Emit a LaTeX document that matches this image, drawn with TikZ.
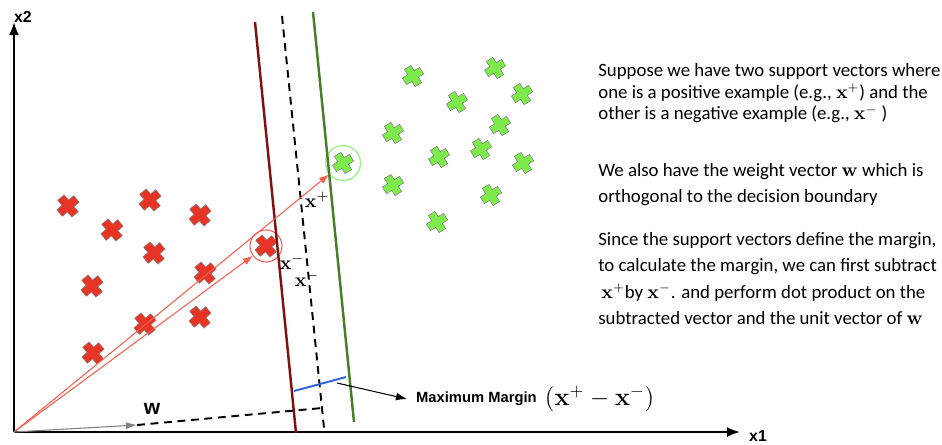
\documentclass[tikz,border=0pt]{standalone}
\usepackage{amsmath, amssymb}
\usepackage[no-math]{fontspec}
\setmainfont{Carlito}
\setsansfont{Liberation Sans}
\usepackage{tikz}
\usetikzlibrary{arrows.meta, positioning, calc}
\definecolor{crossred}{RGB}{232, 52, 36}
\definecolor{crossgreen}{RGB}{125, 235, 75}
\definecolor{negline}{RGB}{130, 18, 18}
\definecolor{posline}{RGB}{72, 125, 42}
\definecolor{vecred}{RGB}{245, 95, 80}
\definecolor{ringgreen}{RGB}{160, 240, 140}
\definecolor{marginblue}{RGB}{40, 100, 225}

\tikzset{
  crossmark/.pic={
    \filldraw[pic actions] (4.2,11) -- (4.2,4.2) -- (11,4.2) -- (11,-4.2) -- (4.2,-4.2)
      -- (4.2,-11) -- (-4.2,-11) -- (-4.2,-4.2) -- (-11,-4.2) -- (-11,4.2)
      -- (-4.2,4.2) -- (-4.2,11) -- cycle;
  }
}

\begin{document}
\begin{tikzpicture}[x=0.02cm, y=-0.02cm, every node/.style={font=\small},
    axis/.style={line width=1.1pt, -{Latex[length=2.6mm, width=2mm]}},
    axislabel/.style={font=\sffamily\bfseries\fontsize{9}{10}\selectfont},
    vec/.style={vecred, line width=0.6pt, -{Latex[length=2mm, width=1.5mm]}},
    para/.style={align=left, inner sep=0pt, anchor=north west}]
        \useasboundingbox (0,0) rectangle (942,444);

        % AXES
        \coordinate (o) at (14,432);
        \coordinate (x2tip) at (14,22);
        \coordinate (x1tip) at (740,432);
        \draw[axis] (o) -- (x2tip);
        \draw[axis] (o) -- (x1tip);
        \node[axislabel] (x2) at (23,17) {x2};
        \node[axislabel] (x1) at (758,436) {x1};

        % NEGATIVE CLASS
        \foreach \p in {(68,206), (150,200), (200,215), (112,230), (154,253),
                        (205,273), (92,286), (145,324), (200,317), (93,353), (266,246)}
          \pic[fill=crossred, draw=gray, line width=0.3pt, rotate=40] at \p {crossmark};

        % POSITIVE CLASS
        \foreach \p in {(413,76), (495,68), (522,94), (457,102), (500,125), (393,133),
                        (481,149), (439,157), (523,163), (343,163), (393,185),
                        (491,195), (437,222)}
          \pic[fill=crossgreen, draw=gray, line width=0.3pt, rotate=32, scale=0.92] at \p {crossmark};

        % SUPPORT VECTORS
        \node[circle, draw=vecred, line width=0.6pt, minimum size=0.64cm] (xn) at (266,246) {};
        \node[circle, draw=ringgreen, line width=0.8pt, minimum size=0.7cm] (xp) at (343,163) {};

        % HYPERPLANES
        \draw[negline, line width=1.4pt] (255,22) -- (296,433);
        \draw[black, line width=1.1pt, dash pattern=on 4.5pt off 3.2pt] (282,16) -- (324,428);
        \draw[posline, line width=1.4pt] (313,12) -- (354,422);

        % VECTORS
        \draw[vec] (o) -- (xp);
        \draw[vec] (o) -- (xn);
        \node[font=\fontsize{11}{12}\selectfont] (lxp) at (317,200) {$\mathbf{x}^{+}$};
        \node[font=\fontsize{11}{12}\selectfont] (lxn) at (292,262) {$\mathbf{x}^{-}$};
        \node[font=\fontsize{11}{12}\selectfont] (lxn2) at (307,279) {$\mathbf{x}^{-}$};

        % WEIGHT VECTOR
        \coordinate (wtip) at (137,425);
        \coordinate (wend) at (322,408);
        \draw[gray, line width=0.6pt, -{Latex[length=2.2mm, width=1.4mm]}] (o) -- (wtip);
        \draw[black, line width=1.1pt, dash pattern=on 4.5pt off 3.2pt] (wtip) -- (wend);
        \node[font=\sffamily\bfseries\fontsize{12}{13}\selectfont] (w) at (152,409) {w};

        % MARGIN
        \coordinate (mleft) at (294,391);
        \coordinate (mright) at (346,377);
        \draw[marginblue, line width=1.1pt] (mleft) -- (mright);
        \node[font=\sffamily\bfseries\fontsize{8.4}{10}\selectfont, anchor=west, inner sep=1pt] (mm) at (414,399) {Maximum Margin};
        \node[font=\fontsize{14}{16}\selectfont, right=0pt of mm] (mf) {$(\mathbf{x}^{+}-\mathbf{x}^{-})$};
        \draw[black, line width=0.6pt, -{Latex[length=2.2mm, width=1.6mm]}] (337,383) -- ([xshift=-4pt]mm.west);

        % EXPLANATION
        \node[para, font=\fontsize{10.7}{12.4}\selectfont] (p1) at (598,63)
          {Suppose we have two support vectors where\\
           one is a positive example (e.g., $\mathbf{x}^{+}$) and the\\
           other is a negative example (e.g., $\mathbf{x}^{-}$ )};
        \node[para, font=\fontsize{10.7}{14.8}\selectfont] (p2) at (598,163)
          {We also have the weight vector $\mathbf{w}$ which is\\
           orthogonal to the decision boundary};
        \node[para, font=\fontsize{10.7}{15}\selectfont] (p3) at (598,232)
          {Since the support vectors define the margin,\\
           to calculate the margin, we can first subtract\\
           \,$\mathbf{x}^{+}$by $\mathbf{x}^{-}$. and perform dot product on the\\
           subtracted vector and the unit vector of $\mathbf{w}$};
      \end{tikzpicture}
\end{document}
